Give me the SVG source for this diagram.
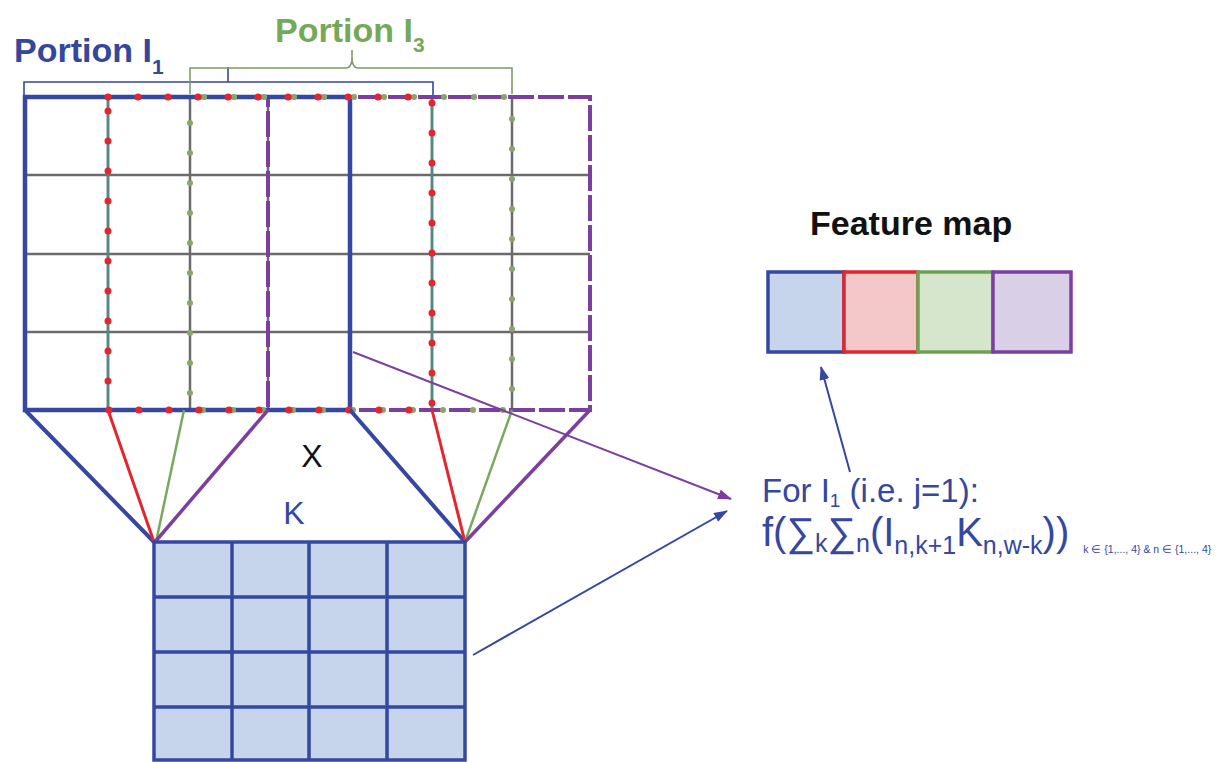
<svg xmlns="http://www.w3.org/2000/svg" width="1225" height="762" viewBox="0 0 1225 762">
<defs>
<style>
.grid{stroke:#6b6b6b;stroke-width:2.5;fill:none}
.blue{stroke:#3547a0;fill:none}
.red{stroke:#e3252d;fill:none}
.green{stroke:#7aa85c;fill:none}
.purple{stroke:#7d3f9f;fill:none}
.kcell{fill:#c6d4ec;stroke:#3547a0;stroke-width:3.5}
.kline{stroke:#3547a0;stroke-width:3.5}
.lbl{font-family:"Liberation Sans",Arial,sans-serif}
</style>
<marker id="ahP" markerUnits="userSpaceOnUse" markerWidth="14" markerHeight="10" refX="13" refY="5" orient="auto"><path d="M0,0 L14,5 L0,10 z" fill="#7d3f9f"/></marker>
<marker id="ahB" markerUnits="userSpaceOnUse" markerWidth="14" markerHeight="10" refX="13" refY="5" orient="auto"><path d="M0,0 L14,5 L0,10 z" fill="#3547a0"/></marker>
</defs>
<rect width="1225" height="762" fill="#ffffff"/>

<g id="labels-top">
<text class="lbl" x="14" y="62" font-size="34" font-weight="bold" fill="#34479c">Portion I<tspan font-size="21" dy="12">1</tspan></text>
<text class="lbl" x="275" y="42" font-size="34" font-weight="bold" fill="#76a85a">Portion I<tspan font-size="21" dy="10">3</tspan></text>
<path d="M24,96 V82 H433 V96 M228,82 V67" stroke="#3547a0" stroke-width="1.6" fill="none"/>
<path d="M190,94 V68 H346 Q351,68 352,60 V50 M352,60 Q353,68 358,68 H512 V94" stroke="#7d9c66" stroke-width="1.6" fill="none"/>
</g>

<g id="input-grid">
<path class="grid" d="M108,97 V410 M190,97 V410 M268,97 V410 M350,97 V410 M432,97 V410 M512,97 V410 M25,175 H590 M25,254 H590 M25,332 H590"/>
<path d="M108,97 V410 M432,97 V410" stroke="#4f8a86" stroke-width="2.5" fill="none"/>
<rect class="purple" x="268" y="97" width="322" height="313" stroke-width="4" stroke-dasharray="26 4"/>
<rect class="blue" x="25" y="97" width="325" height="313" stroke-width="4.5"/>
<rect x="190" y="97" width="322" height="313" fill="none" stroke="#8aa46c" stroke-width="6" stroke-linecap="round" stroke-dasharray="0.1 29.9" stroke-dashoffset="-14"/>
<rect class="red" x="108" y="97" width="324" height="313" stroke-width="7" stroke-linecap="round" stroke-dasharray="0.1 29.9"/>
</g>

<g id="connectors">
<line class="blue" x1="25" y1="410" x2="154" y2="542" stroke-width="4"/>
<line class="red" x1="108" y1="410" x2="154" y2="542" stroke-width="3"/>
<line class="green" x1="184" y1="410" x2="156" y2="542" stroke-width="2.5"/>
<line class="purple" x1="268" y1="410" x2="155" y2="542" stroke-width="3.5"/>
<line class="blue" x1="350" y1="410" x2="465" y2="542" stroke-width="4"/>
<line class="red" x1="432" y1="410" x2="465" y2="542" stroke-width="3"/>
<line class="green" x1="512" y1="410" x2="465" y2="542" stroke-width="2.5"/>
<line class="purple" x1="590" y1="410" x2="465" y2="542" stroke-width="3.5"/>
<line x1="353" y1="352" x2="731" y2="499" stroke="#7d3f9f" stroke-width="2" marker-end="url(#ahP)"/>
<line x1="473" y1="655" x2="727" y2="511" stroke="#3547a0" stroke-width="2" marker-end="url(#ahB)"/>
<line x1="850" y1="472" x2="821" y2="367" stroke="#3547a0" stroke-width="2" marker-end="url(#ahB)"/>
</g>

<g id="op-x">
<text class="lbl" x="312" y="467" font-size="32" fill="#111111" text-anchor="middle">X</text>
</g>

<g id="kernel">
<text class="lbl" x="294" y="524" font-size="32" fill="#3547a0" text-anchor="middle">K</text>
<rect class="kcell" x="154" y="542" width="311" height="218"/>
<path class="kline" d="M232,542 V760 M309,542 V760 M387,542 V760 M154,597 H465 M154,652 H465 M154,707 H465"/>
</g>

<g id="feature-map">
<text class="lbl" x="810" y="235" font-size="34" font-weight="bold" fill="#111111">Feature map</text>
<rect x="768" y="272" width="76" height="80" fill="#c6d4ec" stroke="#3547a0" stroke-width="3.5"/>
<rect x="844" y="272" width="74" height="80" fill="#f4c7c8" stroke="#e3252d" stroke-width="3.5"/>
<rect x="918" y="272" width="75" height="80" fill="#d5e6cd" stroke="#6ea253" stroke-width="3.5"/>
<rect x="993" y="272" width="78" height="80" fill="#d9d0e7" stroke="#7d3f9f" stroke-width="3.5"/>
</g>

<g id="formula">
<text class="lbl" x="762" y="502" font-size="33" fill="#3547a0">For I<tspan font-size="19" dy="5">1</tspan><tspan dy="-5"> (i.e. j=1):</tspan></text>
<text class="lbl" x="762" y="546" font-size="40" fill="#3547a0">f(∑<tspan font-size="25" dy="6">k</tspan><tspan dy="-6">∑</tspan><tspan font-size="25" dy="6">n</tspan><tspan dy="-6">(I</tspan><tspan font-size="25" dy="8">n,k+1</tspan><tspan dy="-8">K</tspan><tspan font-size="25" dy="8">n,w-k</tspan><tspan dy="-8">))</tspan><tspan font-size="10.5" dy="7" dx="14">k ∈ {1,..., 4} &amp; n ∈ {1,..., 4}</tspan></text>
</g>
</svg>
